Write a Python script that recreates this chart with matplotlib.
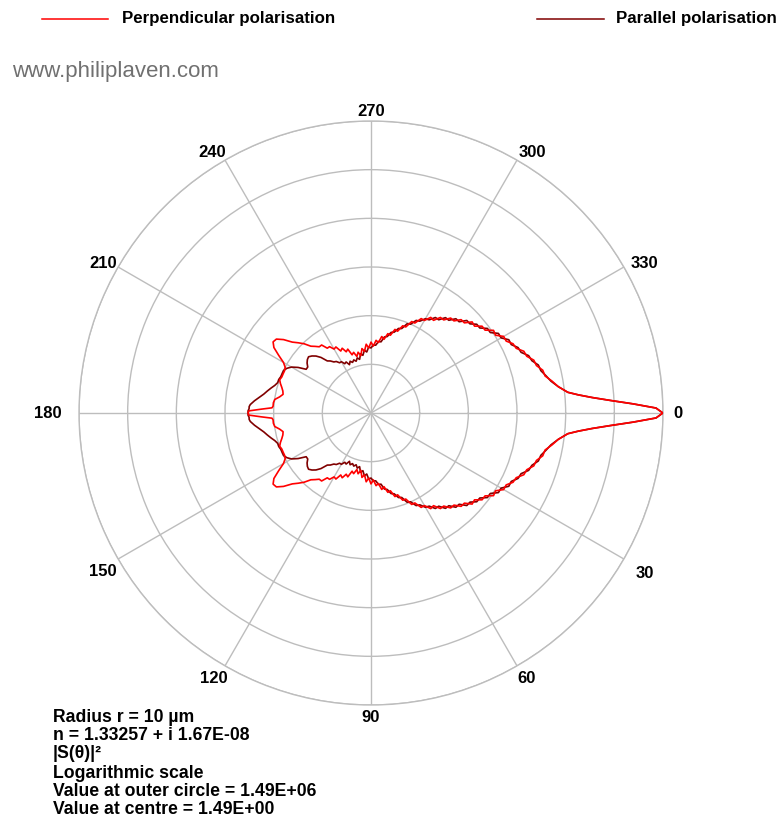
import numpy as np
import matplotlib.pyplot as plt
from matplotlib.lines import Line2D

plt.rcParams['font.family'] = ['Liberation Sans', 'DejaVu Sans']

# scattering angle in degrees (0 = forward, 180 = backward)
angle_deg = [0, 1, 2, 3, 4, 5, 6] + list(range(8, 177, 2)) + [177, 178, 179, 180]

# log10 |S(θ)|² for each polarisation, same angles as above
perp_log = [
    6.17, 6.03, 5.56, 5.10, 4.73, 4.45, 4.24,
    4.06, 3.95, 3.83, 3.81, 3.71, 3.69, 3.58, 3.56, 3.44, 3.42,
    3.32, 3.32, 3.19, 3.21, 3.07, 3.07, 2.95, 2.97, 2.84, 2.84,
    2.72, 2.72, 2.60, 2.60, 2.47, 2.49, 2.37, 2.37, 2.23, 2.23,
    2.08, 2.08, 1.94, 1.96, 1.82, 1.84, 1.71, 1.76, 1.63, 1.67,
    1.55, 1.63, 1.51, 1.59, 1.45, 1.51, 1.37, 1.45, 1.37, 1.47,
    1.43, 1.57, 1.53, 1.63, 1.59, 1.71, 1.69, 1.78, 1.78, 1.90,
    1.90, 1.96, 2.02, 2.15, 2.25, 2.35, 2.52, 2.64, 2.66, 2.58,
    2.41, 2.25, 2.17, 2.15, 2.15, 2.15, 2.17, 2.13, 2.08, 2.04,
    2.02, 2.08, 2.17, 2.19, 2.19,
    2.21, 2.43, 2.68, 2.70,
]
para_log = [
    6.17, 6.03, 5.56, 5.10, 4.73, 4.45, 4.24,
    4.06, 3.93, 3.85, 3.77, 3.75, 3.65, 3.62, 3.50, 3.48, 3.38,
    3.38, 3.26, 3.26, 3.13, 3.13, 3.01, 3.01, 2.91, 2.91, 2.78,
    2.78, 2.66, 2.66, 2.54, 2.54, 2.43, 2.41, 2.31, 2.29, 2.17,
    2.15, 2.02, 2.00, 1.90, 1.88, 1.78, 1.76, 1.65, 1.65, 1.57,
    1.57, 1.51, 1.53, 1.43, 1.47, 1.37, 1.41, 1.30, 1.34, 1.28,
    1.32, 1.28, 1.32, 1.26, 1.34, 1.32, 1.39, 1.39, 1.45, 1.47,
    1.53, 1.57, 1.71, 1.80, 1.86, 1.90, 1.88, 1.84, 1.78, 1.78,
    1.94, 2.06, 2.13, 2.17, 2.17, 2.17, 2.19, 2.19, 2.23, 2.29,
    2.35, 2.41, 2.49, 2.58, 2.66,
    2.68, 2.68, 2.70, 2.70,
]

outer_value = 1.49e6
centre_value = 1.49e0

grid_angles = list(range(0, 360, 30))
# pixel offset of each angle label from the outer circle
label_offsets = {
    0: (15, 0), 30: (21, -14), 60: (10, -13), 90: (0, -13),
    120: (-11, -13), 150: (-15, -13), 180: (-31, 0), 210: (-15, 3),
    240: (-13, 8), 270: (0, 10), 300: (15, 8), 330: (21, 3),
}

info_lines = [
    "Radius r = 10 µm",
    "n = 1.33257 + i 1.67E-08",
    "|S(θ)|²",
    "Logarithmic scale",
    "Value at outer circle = 1.49E+06",
    "Value at centre = 1.49E+00",
]
info_y = [717, 735, 753, 773, 791, 810]

W, H = 780, 823
fig = plt.figure(figsize=(W / 100, H / 100), dpi=100)

cx, cy, R = 371, 413, 292
ax = fig.add_axes([(cx - R) / W, (H - cy - R) / H, 2 * R / W, 2 * R / H],
                  projection='polar')
ax.set_theta_zero_location('E')
ax.set_theta_direction(-1)
r_lo, r_hi = np.log10(centre_value), np.log10(outer_value)
ax.set_ylim(r_lo, r_hi)

grid_col = '#bdbdbd'
ax.set_rgrids(r_lo + np.arange(1, 7), labels=[''] * 6)
ax.set_thetagrids(grid_angles, labels=[''] * len(grid_angles))
ax.grid(True, color=grid_col, linewidth=1.0)
ax.spines['polar'].set_color(grid_col)
ax.spines['polar'].set_linewidth(1.0)

for a in grid_angles:
    ax.annotate(str(a), xy=(np.radians(a), r_hi), xytext=label_offsets[a],
                textcoords='offset pixels', ha='center', va='center',
                fontsize=12, fontweight='bold', annotation_clip=False)

# mirror the 0-180 data onto the upper half
ang = np.array(angle_deg, dtype=float)
full_ang = np.radians(np.concatenate([ang, 360 - ang[::-1]]))


def mirrored(vals):
    v = np.array(vals)
    return np.concatenate([v, v[::-1]])


ax.plot(full_ang, mirrored(para_log), color='#800000', linewidth=1.2, zorder=3)
ax.plot(full_ang, mirrored(perp_log), color='#ff0000', linewidth=1.2, zorder=4)

# legend entries across the top
ly = 1 - 19 / H
fig.add_artist(Line2D([42 / W, 108 / W], [ly, ly], color='#ff0000', linewidth=1.1))
fig.text(122 / W, ly, "Perpendicular polarisation", fontsize=12.2,
         fontweight='bold', va='center', ha='left')
fig.add_artist(Line2D([537 / W, 604 / W], [ly, ly], color='#800000', linewidth=1.1))
fig.text(616 / W, ly, "Parallel polarisation", fontsize=12.2,
         fontweight='bold', va='center', ha='left')

fig.text(12 / W, 1 - 71 / H, "www.philiplaven.com", fontsize=16,
         color='#707070', va='center', ha='left')

for line, y in zip(info_lines, info_y):
    fig.text(53 / W, 1 - y / H, line, fontsize=12.7,
             fontweight='bold', va='center', ha='left')

fig.savefig('out.png', dpi=100, facecolor='white')
